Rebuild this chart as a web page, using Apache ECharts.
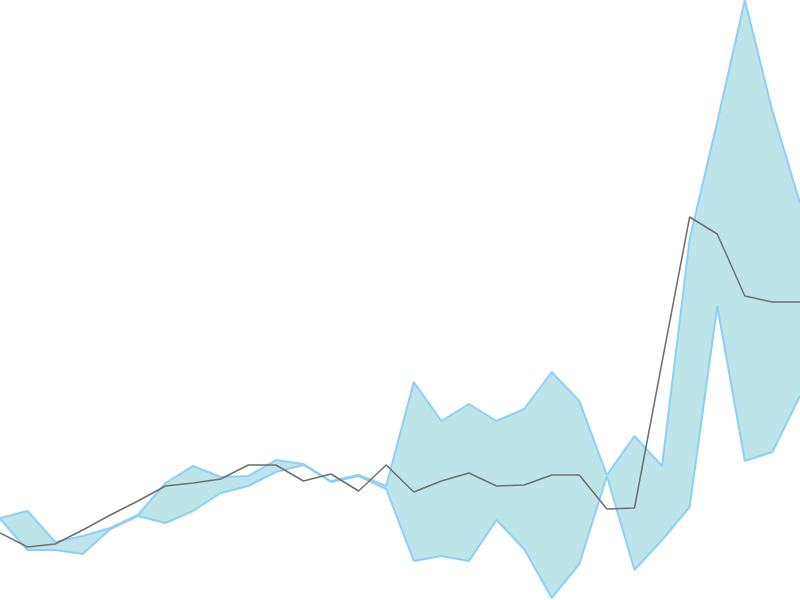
<!DOCTYPE html>
<html>
<head>
<meta charset="utf-8">
<script src="https://cdn.jsdelivr.net/npm/echarts@6/dist/echarts.min.js"></script>
<style>html,body{margin:0;padding:0;background:#fff}#c{width:800px;height:600px}</style>
</head>
<body>
<div id="c"></div>
<script>
const categories = Array.from({length:30},(_,i)=>String(i+1));
const upperValues = [82,89,58,64,72,85,117,134,123,124,140,136,119,125,114,218,179,196,179,191,228,199,125,164,134,361,478,600,489,397];
const lowerValues = [81,50,50,46,71,84,77,89,107,114,128,135,118,124,111,39,44,39,80,51,2,36,124,30,60,93,294,139,148,204];
const lineValues = [67,53,56,70,85,99,114,117,121,135,135,119,126,109,135,108,119,127,114,115,125,125,91,92,238,383,366,304,298,298];

const bandDiff = upperValues.map((u,i)=>u-lowerValues[i]);
const chart = echarts.init(document.getElementById('c'));
chart.setOption({
  animation:false,
  grid:{left:0,right:0,top:0,bottom:0},
  xAxis:{type:'category',data:categories,boundaryGap:false,show:false},
  yAxis:{type:'value',min:0,max:600,show:false},
  series:[
    {name:'lower',type:'line',data:lowerValues,stack:'band',stackStrategy:'all',symbol:'none',
     lineStyle:{color:'#8ecff5',width:2},z:3},
    {name:'band',type:'line',data:bandDiff,stack:'band',stackStrategy:'all',symbol:'none',
     lineStyle:{color:'#8ecff5',width:2},areaStyle:{color:'#bde4e9',opacity:1},z:2},
    {name:'value',type:'line',data:lineValues,symbol:'none',
     lineStyle:{color:'#6e6e6e',width:1.5},z:4}
  ]
});
</script>
</body>
</html>
